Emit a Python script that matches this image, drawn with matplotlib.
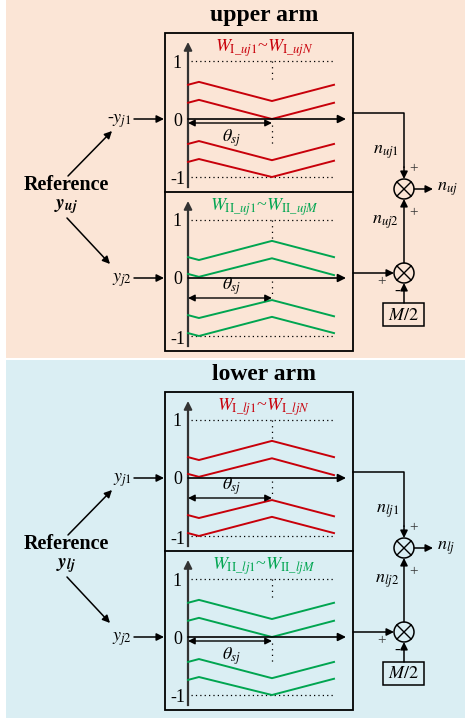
import matplotlib
matplotlib.use("Agg")
import matplotlib.pyplot as plt
from matplotlib.patches import Rectangle, Circle

plt.rcParams['font.family'] = ['Liberation Serif', 'DejaVu Serif']
plt.rcParams['mathtext.fontset'] = 'stix'

# ---- diagram content ----
arm_titles = ["upper arm", "lower arm"]
arm_colors = ["#FBE5D6", "#DAEEF3"]
ref_symbols = [r"$\mathbfit{y}_{\mathbfit{uj}}$", r"$\mathbfit{y}_{\mathbfit{lj}}$"]
input_labels = [["-$y_{j1}$", "$y_{j2}$"], ["$y_{j1}$", "$y_{j2}$"]]
wave_labels = [
    [r"$W_{\mathrm{I}\_uj1}$~$W_{\mathrm{I}\_ujN}$", r"$W_{\mathrm{II}\_uj1}$~$W_{\mathrm{II}\_ujM}$"],
    [r"$W_{\mathrm{I}\_lj1}$~$W_{\mathrm{I}\_ljN}$", r"$W_{\mathrm{II}\_lj1}$~$W_{\mathrm{II}\_ljM}$"],
]
n_labels = [[r"$n_{uj1}$", r"$n_{uj2}$", r"$n_{uj}$"], [r"$n_{lj1}$", r"$n_{lj2}$", r"$n_{lj}$"]]
red = "#C8000A"
green = "#00A550"
panel_colors = [[red, green], [red, green]]

# carrier breakpoints (phase, 0 .. theta_sj .. end) and levels in per-unit
phase = [0.0, 0.075, 0.575, 1.0]
v_wave = [
    [0.59, 0.64, 0.31, 0.59],
    [0.28, 0.33, 0.00, 0.28],
    [-0.43, -0.38, -0.71, -0.43],
    [-0.74, -0.69, -1.00, -0.72],
]
inv_wave = [
    [0.36, 0.31, 0.64, 0.36],
    [0.07, 0.02, 0.34, 0.05],
    [-0.64, -0.69, -0.38, -0.66],
    [-0.95, -1.00, -0.67, -0.95],
]
# which carrier shape each panel uses: True = V shape
panel_shapes = [[True, False], [False, True]]

# ---- layout (pixels) ----
W, H = 465, 719
arm_shift = 359
ax_x = 188          # panel vertical axis
wave_w = 146        # width of carrier
unit = 58           # pixels per 1 p.u.
panel_y = [119, 278]

fig = plt.figure(figsize=(W / 100, H / 100), dpi=100)
ax = fig.add_axes([0, 0, 1, 1])
ax.set_xlim(0, W)
ax.set_ylim(H, 0)
ax.axis("off")


def arrow(x0, y0, x1, y1, style='-|>', lw=1.1, color='k', ms=11):
    ax.annotate('', xy=(x1, y1), xytext=(x0, y0),
                arrowprops=dict(arrowstyle=style, color=color, lw=lw,
                                mutation_scale=ms, shrinkA=0, shrinkB=0))


def panel(y0, label, color, vshape):
    axc = "#333333"
    ax.plot([ax_x, ax_x], [y0 + 68, y0 - 66], color=axc, lw=1.6)
    arrow(ax_x, y0 - 66, ax_x, y0 - 77, color=axc, lw=1.4, ms=12)
    arrow(ax_x, y0, 346, y0, color='k', lw=1.2, ms=12)
    for lev in (1, -1):
        ax.plot([191, 333], [y0 - lev * unit] * 2, color='k', lw=0.9, ls=(0, (1, 2.5)))
    xm = ax_x + phase[2] * wave_w
    waves = v_wave if vshape else inv_wave
    for w in waves:
        ax.plot([ax_x + p * wave_w for p in phase], [y0 - v * unit for v in w],
                color=color, lw=1.4)
    lo = (-0.1, -0.45) if vshape else (-0.05, -0.35)
    ax.plot([xm, xm], [y0 - unit, y0 - 0.68 * unit], color='k', lw=0.9, ls=(0, (1, 3.5)))
    ax.plot([xm, xm], [y0 - lo[0] * unit, y0 - lo[1] * unit], color='k', lw=0.9, ls=(0, (1, 3.5)))
    if vshape:
        ya, yt = y0 + 4, y0 + 19
    else:
        ya, yt = y0 + 20, y0 + 8
    arrow(ax_x, ya, xm, ya, style='<|-|>', lw=1.0, ms=10)
    ax.text(232, yt, r"$\theta_{sj}$", fontsize=13, ha='center', va='center')
    ax.text(177, y0 - unit + 2, "1", fontsize=13, ha='center', va='center')
    ax.text(177.5, y0 + 2, "0", fontsize=13, ha='center', va='center')
    ax.text(178, y0 + unit + 3, "-1", fontsize=13, ha='center', va='center')
    ax.text(264, y0 - 71, label, fontsize=13, color=color, ha='center', va='center')


def summer(x, y, r=10):
    ax.add_patch(Circle((x, y), r, fill=False, lw=1.1, ec='k'))
    d = r * 0.707
    ax.plot([x - d, x + d], [y - d, y + d], color='k', lw=1.0)
    ax.plot([x - d, x + d], [y + d, y - d], color='k', lw=1.0)


for i in range(2):
    s = i * arm_shift
    # background
    ax.add_patch(Rectangle((6, s + (0 if i == 0 else 1)), W - 6, 358, fc=arm_colors[i], ec='none', zorder=0))
    ax.text(264, 15 + s, arm_titles[i], fontsize=17, fontweight='bold', ha='center', va='center')

    # box
    ax.add_patch(Rectangle((165, 33 + s), 188, 318, fill=False, lw=1.3, ec='k'))
    ax.plot([165, 353], [192 + s, 192 + s], color='k', lw=1.3)
    for k in range(2):
        panel(panel_y[k] + s, wave_labels[i][k], panel_colors[i][k], panel_shapes[i][k])

    # inputs
    for k in range(2):
        y0 = panel_y[k] + s
        ax.text(132, y0 + 2, input_labels[i][k], fontsize=13, ha='right', va='center')
        arrow(134, y0, 164, y0)
    ax.text(66, 185 + s, "Reference", fontsize=14.5, fontweight='bold', ha='center', va='center')
    ax.text(66, 207 + s, ref_symbols[i], fontsize=14, ha='center', va='center')
    arrow(68, 176 + s, 112, 131 + s)
    arrow(67, 218 + s, 110, 264 + s)

    # summation side
    cx = 404
    c1, c2 = 189 + s, 273 + s
    ax.plot([353, cx, cx], [113 + s, 113 + s, c1 - 22], color='k', lw=1.1)
    arrow(cx, c1 - 22, cx, c1 - 10)
    summer(cx, c1)
    summer(cx, c2)
    arrow(cx, c2 - 10, cx, c1 + 10)
    arrow(353, c2, cx - 10, c2)
    arrow(cx, 303 + s, cx, c2 + 10)
    arrow(cx + 10, c1, 433, c1)
    ax.add_patch(Rectangle((383, 303 + s), 41, 23, fill=False, lw=1.1, ec='k'))
    ax.text(403.5, 315 + s, "$M/2$", fontsize=13, ha='center', va='center')
    ax.text(399, 152 + s, n_labels[i][0], fontsize=13, ha='right', va='center')
    ax.text(399, 222 + s, n_labels[i][1], fontsize=13, ha='right', va='center')
    ax.text(437, c1, n_labels[i][2], fontsize=13, ha='left', va='center')
    for (px_, py_) in [(414, 169), (414, 213), (382, 282)]:
        ax.text(px_, py_ + s, "+", fontsize=11, ha='center', va='center', color='#333333')
    ax.text(397, 292 + s, "-", fontsize=12, fontweight='bold', ha='center', va='center')

fig.savefig("out.png", dpi=100)
